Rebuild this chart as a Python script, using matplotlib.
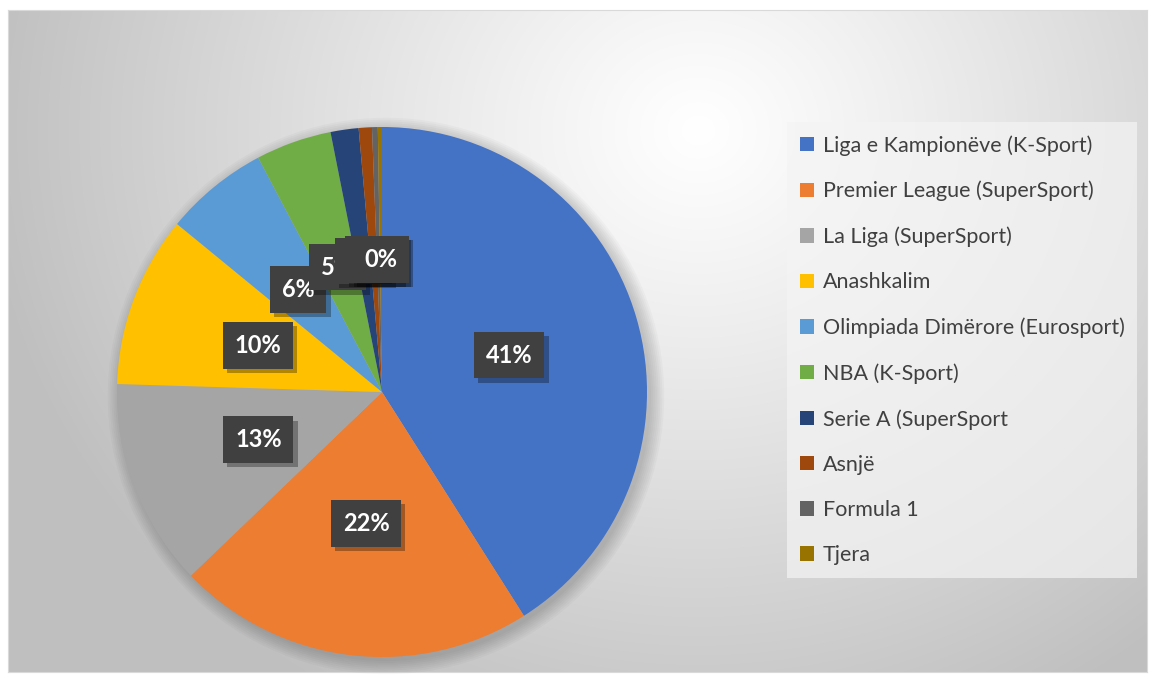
import numpy as np
import matplotlib
matplotlib.use("Agg")
import matplotlib.pyplot as plt
import matplotlib.patheffects as pe

categories = ["Liga e Kampionëve (K-Sport)", "Premier League (SuperSport)",
              "La Liga (SuperSport)", "Anashkalim", "Olimpiada Dimërore (Eurosport)",
              "NBA (K-Sport)", "Serie A (SuperSport", "Asnjë", "Formula 1", "Tjera"]
values = [40.8, 21.7, 12.6, 10.4, 6.3, 4.6, 1.7, 0.8, 0.35, 0.25]
colors = ["#4472C4", "#ED7D31", "#A5A5A5", "#FFC000", "#5B9BD5",
          "#70AD47", "#264478", "#9E480E", "#636363", "#997300"]

plt.rcParams['font.family'] = ['Lato', 'DejaVu Sans']

W, H = 1149, 675
fig = plt.figure(figsize=(W / 100, H / 100), dpi=100)
fig.patch.set_facecolor("white")

# background with radial gradient
bg = fig.add_axes([8 / W, 3 / H, 1139 / W, 662 / H])
yy, xx = np.mgrid[0:662, 0:1139]
cx, cy = 690, 120
d = np.sqrt((xx - cx) ** 2 + ((yy - cy) * 1.1) ** 2)
t = np.clip(d / 720, 0, 1) ** 1.1
val = 1.0 - t * 0.25
img = np.dstack([val, val, val])
bg.imshow(img, extent=[0, 1139, 662, 0], aspect='auto')
bg.set_xlim(0, 1139)
bg.set_ylim(662, 0)
for s in bg.spines.values():
    s.set_color("#d9d9d9")
bg.set_xticks([])
bg.set_yticks([])

# pie axes
R = 265
cxp, cyp = 382, 392
ax = fig.add_axes([(cxp - R * 1.1) / W, (H - cyp - R * 1.1) / H, 2.2 * R / W, 2.2 * R / H])
ax.set_axis_off()

# soft shadow behind pie
for r in np.linspace(1.05, 1.0, 8):
    ax.add_patch(plt.Circle((0.015, -0.015), r, color='black', alpha=0.022, lw=0, zorder=0))

wedges, _ = ax.pie(values, colors=colors, startangle=90, counterclock=False,
                   radius=1.0, wedgeprops=dict(linewidth=0))
ax.set_xlim(-1.1, 1.1)
ax.set_ylim(-1.1, 1.1)
ax.set_aspect('auto')
for w in wedges:
    w.set_zorder(1)

total = sum(values)
for w, v in zip(wedges, values):
    ang = np.deg2rad((w.theta1 + w.theta2) / 2)
    x, y = 0.5 * np.cos(ang), 0.5 * np.sin(ang)
    txt = ax.text(x, y, f"{round(v / total * 100):.0f}%", ha='center', va='center',
                  color='white', fontsize=17, fontweight='bold', zorder=5,
                  bbox=dict(boxstyle='square,pad=0.5', facecolor='#404040',
                            edgecolor='none'))
    txt.get_bbox_patch().set_path_effects([
        pe.SimplePatchShadow(offset=(3, -3), shadow_rgbFace='black', alpha=0.3),
        pe.Normal()])

leg = fig.legend(wedges, categories, loc='upper left',
                 bbox_to_anchor=(787 / W, 1 - 122 / H), fontsize=15.5,
                 frameon=True, fancybox=False, labelspacing=1.17,
                 handlelength=0.65, handleheight=0.65, handletextpad=0.4,
                 borderpad=0.6, borderaxespad=0)
leg.get_frame().set_facecolor('#f4f4f4')
leg.get_frame().set_alpha(0.7)
leg.get_frame().set_edgecolor('none')
for tx in leg.get_texts():
    tx.set_color('#404040')

fig.savefig("out.png", dpi=100)
